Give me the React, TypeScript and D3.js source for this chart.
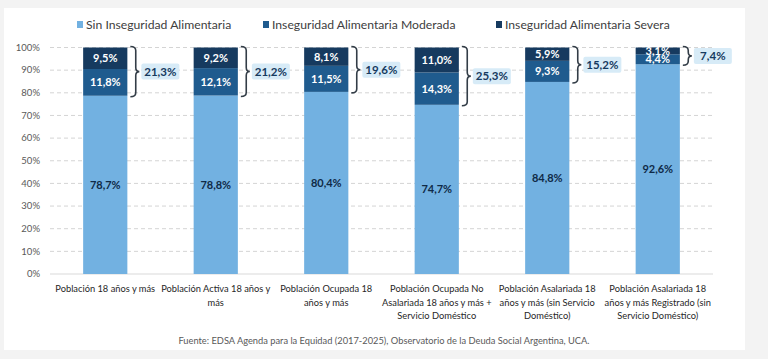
import React, { useEffect, useRef } from 'react';
import * as d3 from 'd3';

const categories = [
    ["Población 18 años y más"],
    ["Población Activa 18 años y", "más"],
    ["Población Ocupada 18", "años y más"],
    ["Población Ocupada No", "Asalariada 18 años y más +", "Servicio Doméstico"],
    ["Población Asalariada 18", "años y más (sin Servicio", "Doméstico)"],
    ["Población Asalariada 18", "años y más Registrado (sin", "Servicio Doméstico)"],
];
const sinInseguridad = [78.7, 78.8, 80.4, 74.7, 84.8, 92.6];
const moderada = [11.8, 12.1, 11.5, 14.3, 9.3, 4.4];
const severa = [9.5, 9.2, 8.1, 11.0, 5.9, 3.1];
const totales = [21.3, 21.2, 19.6, 25.3, 15.2, 7.4];
const seriesNames = ["Sin Inseguridad Alimentaria", "Inseguridad Alimentaria Moderada", "Inseguridad Alimentaria Severa"];
const colors = ["#72b1e1", "#1f5b8e", "#163a5f"];
const yTicks = [0, 10, 20, 30, 40, 50, 60, 70, 80, 90, 100];
const fuente = "Fuente: EDSA Agenda para la Equidad (2017-2025), Observatorio de la Deuda Social Argentina, UCA.";

const fmt = (v: number) => v.toFixed(1).replace(".", ",") + "%";

const App = () => {
    const svgRef = useRef<SVGSVGElement>(null);

    useEffect(() => {
        const svg = d3.select(svgRef.current);
        svg.selectAll("*").remove();

        const width = 768, height = 359;
        const font = "Lato, 'Noto Sans', sans-serif";

        // background and card
        svg.append("rect").attr("width", width).attr("height", height).attr("fill", "#f3f3f3");
        svg.append("rect").attr("x", 4).attr("y", 8).attr("width", 741).attr("height", 342).attr("fill", "#ffffff");

        const x = d3.scaleBand<number>()
            .domain(d3.range(categories.length))
            .range([50, 713])
            .paddingInner(0.6)
            .paddingOuter(0.3);

        const y = d3.scaleLinear().domain([0, 100]).range([274, 47.5]).clamp(true);

        // grid
        svg.append("g").selectAll("line")
            .data(yTicks.filter(t => t > 0))
            .enter()
            .append("line")
            .attr("x1", 50).attr("x2", 713)
            .attr("y1", d => y(d)).attr("y2", d => y(d))
            .attr("stroke", "#d4d4d4")
            .attr("stroke-dasharray", "4,3")
            .attr("stroke-width", 1);

        svg.append("line")
            .attr("x1", 50).attr("x2", 713)
            .attr("y1", y(0)).attr("y2", y(0))
            .attr("stroke", "#d9d9d9");

        // y axis labels
        svg.append("g").selectAll("text")
            .data(yTicks)
            .enter()
            .append("text")
            .attr("x", 40)
            .attr("y", d => y(d))
            .attr("dy", "0.35em")
            .attr("text-anchor", "end")
            .attr("font-family", font)
            .attr("font-size", 9.5)
            .attr("fill", "#595959")
            .text(d => d + "%");

        const table = categories.map((c, i) => ({ i, sin: sinInseguridad[i], mod: moderada[i], sev: severa[i] }));
        const stack = d3.stack<any>().keys(["sin", "mod", "sev"])(table);

        const bw = x.bandwidth();
        stack.forEach((layer, k) => {
            svg.append("g").selectAll("rect")
                .data(layer)
                .enter()
                .append("rect")
                .attr("x", d => x(d.data.i)!)
                .attr("y", d => y(d[1]))
                .attr("width", bw)
                .attr("height", d => y(d[0]) - y(d[1]))
                .attr("fill", colors[k]);

            svg.append("g").selectAll("text")
                .data(layer)
                .enter()
                .append("text")
                .attr("x", d => x(d.data.i)! + bw / 2)
                .attr("y", d => y((d[0] + d[1]) / 2))
                .attr("dy", "0.36em")
                .attr("text-anchor", "middle")
                .attr("font-family", font)
                .attr("font-weight", "bold")
                .attr("font-size", 11)
                .attr("fill", k === 0 ? "#0f2a47" : "#ffffff")
                .text(d => fmt(d[1] - d[0]));
        });

        // braces with totals
        const braces = svg.append("g");
        totales.forEach((t, i) => {
            const x0 = x(i)! + bw + 3;
            const yTop = y(100) - 1;
            const yBot = y(sinInseguridad[i]) + 1;
            const ym = (yTop + yBot) / 2;
            const w = 9;
            const path = d3.path();
            path.moveTo(x0, yTop);
            path.quadraticCurveTo(x0 + w * 0.6, yTop, x0 + w * 0.6, yTop + 4);
            path.lineTo(x0 + w * 0.6, ym - 4);
            path.quadraticCurveTo(x0 + w * 0.6, ym, x0 + w, ym);
            path.quadraticCurveTo(x0 + w * 0.6, ym, x0 + w * 0.6, ym + 4);
            path.lineTo(x0 + w * 0.6, yBot - 4);
            path.quadraticCurveTo(x0 + w * 0.6, yBot, x0, yBot);
            braces.append("path")
                .attr("d", path.toString())
                .attr("fill", "none")
                .attr("stroke", "#333d47")
                .attr("stroke-width", 1.6);

            const lx = x0 + w + 2;
            braces.append("rect")
                .attr("x", lx)
                .attr("y", ym - 8)
                .attr("width", 38)
                .attr("height", 16)
                .attr("rx", 2)
                .attr("fill", "#d7ebf7");
            braces.append("text")
                .attr("x", lx + 19)
                .attr("y", ym)
                .attr("dy", "0.36em")
                .attr("text-anchor", "middle")
                .attr("font-family", font)
                .attr("font-weight", "bold")
                .attr("font-size", 11.5)
                .attr("fill", "#163a5f")
                .text(fmt(t));
        });

        // category labels
        categories.forEach((lines, i) => {
            const t = svg.append("text")
                .attr("text-anchor", "middle")
                .attr("font-family", font)
                .attr("font-size", 9.3)
                .attr("fill", "#262626");
            lines.forEach((ln, j) => {
                t.append("tspan")
                    .attr("x", x(i)! + bw / 2)
                    .attr("y", 292 + j * 13.5)
                    .text(ln);
            });
        });

        // legend
        const legendX = [77, 263, 496];
        seriesNames.forEach((name, k) => {
            svg.append("rect")
                .attr("x", legendX[k])
                .attr("y", 21)
                .attr("width", 6)
                .attr("height", 7)
                .attr("fill", colors[k]);
            svg.append("text")
                .attr("x", legendX[k] + 9)
                .attr("y", 25)
                .attr("dy", "0.35em")
                .attr("font-family", font)
                .attr("font-size", 12.2)
                .attr("fill", "#404040")
                .text(name);
        });

        svg.append("text")
            .attr("x", 384)
            .attr("y", 341)
            .attr("dy", "0.35em")
            .attr("text-anchor", "middle")
            .attr("font-family", font)
            .attr("font-size", 9.3)
            .attr("fill", "#595959")
            .text(fuente);
    }, []);

    return (
        <svg ref={svgRef} width={768} height={359} style={{ position: "absolute", left: 0, top: 0 }}></svg>
    );
};

export default App;
